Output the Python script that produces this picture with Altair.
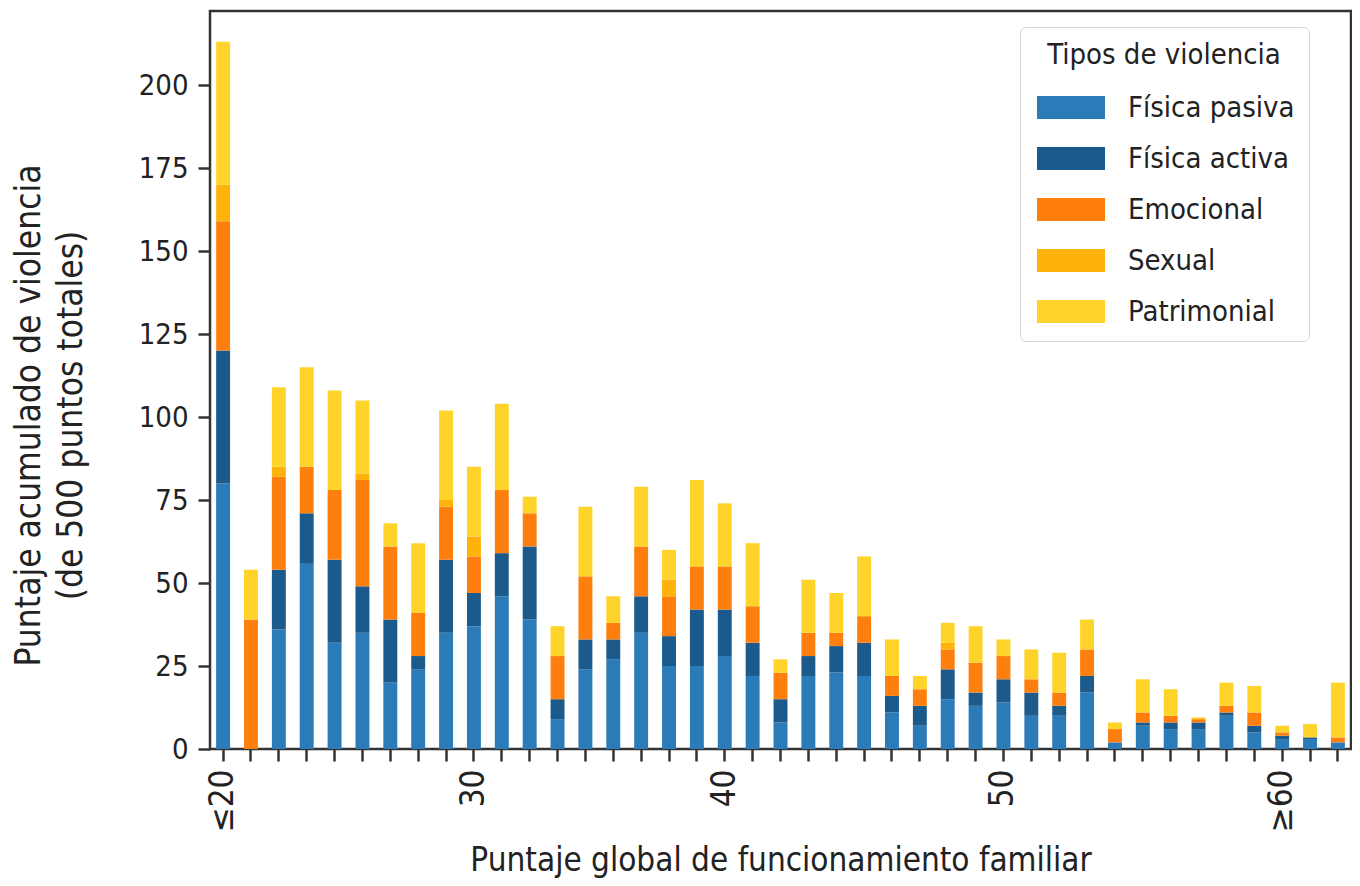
import altair as alt
import pandas as pd

# x categories (bar positions) and their tick labels
grupos = list(range(41))
etiquetas_x = {0: "≤20", 9: "30", 18: "40", 28: "50", 38: "≥60"}

tipos = ["Física pasiva", "Física activa", "Emocional", "Sexual", "Patrimonial"]
colores = ["#2c7bb9", "#1b5a8a", "#ff7f0e", "#ffb20a", "#ffd42a"]

fisica_pasiva = [80, 0, 36, 56, 32, 35, 20, 24, 35, 37, 46, 39, 9, 24, 27, 35, 25, 25, 28, 22,
                 8, 22, 23, 22, 11, 7, 15, 13, 14, 10, 10, 17, 2, 7, 6, 6, 10, 5, 3, 3, 2]
fisica_activa = [40, 0, 18, 15, 25, 14, 19, 4, 22, 10, 13, 22, 6, 9, 6, 11, 9, 17, 14, 10,
                 7, 6, 8, 10, 5, 6, 9, 4, 7, 7, 3, 5, 0, 1, 2, 2, 1, 2, 1, 0.5, 0]
emocional = [39, 39, 28, 14, 21, 32, 22, 13, 16, 11, 19, 10, 13, 19, 5, 15, 12, 13, 13, 11,
             8, 7, 4, 8, 6, 5, 6, 9, 7, 4, 4, 8, 4, 3, 2, 1, 2, 4, 1, 0, 1.5]
sexual = [11, 0, 3, 0, 0, 2, 0, 0, 2, 6, 0, 0, 0, 0, 0, 0, 5, 0, 0, 0,
          0, 0, 0, 0, 0, 0, 2, 0, 0, 0, 0, 0, 0, 0, 0, 0, 0, 0, 0, 0, 0]
patrimonial = [43, 15, 24, 30, 30, 22, 7, 21, 27, 21, 26, 5, 9, 21, 8, 18, 9, 26, 19, 19,
               4, 16, 12, 18, 11, 4, 6, 11, 5, 9, 12, 9, 2, 10, 8, 0.5, 7, 8, 2, 4, 16.5]

y_ticks = [0, 25, 50, 75, 100, 125, 150, 175, 200]

series = [fisica_pasiva, fisica_activa, emocional, sexual, patrimonial]
rows = []
for i, g in enumerate(grupos):
    for k, (t, s) in enumerate(zip(tipos, series)):
        rows.append({"grupo": g, "tipo": t, "valor": s[i], "orden": k})
df = pd.DataFrame(rows)

label_expr = " : ".join(f"datum.value == {k} ? '{v}'" for k, v in etiquetas_x.items()) + " : ''"

FONT = "DejaVu Sans Condensed, Liberation Sans Narrow, DejaVu Sans"
DARK = "#222222"

chart = alt.Chart(df).mark_bar().encode(
    x=alt.X(
        "grupo:O",
        scale=alt.Scale(paddingInner=0.5, paddingOuter=0.22),
        axis=alt.Axis(
            title="Puntaje global de funcionamiento familiar",
            labelExpr=label_expr,
            labelAngle=270,
            labelOverlap=False,
            labelFont=FONT,
            labelFontSize=33,
            labelColor=DARK,
            labelPadding=8,
            tickSize=12,
            tickWidth=2.5,
            tickColor="#333333",
            domain=False,
            titleFont=FONT,
            titleFontSize=33,
            titleFontWeight="normal",
            titleColor=DARK,
            titlePadding=13,
        ),
    ),
    y=alt.Y(
        "valor:Q",
        stack="zero",
        scale=alt.Scale(domain=[0, 222.3], nice=False),
        axis=alt.Axis(
            values=y_ticks,
            title=["Puntaje acumulado de violencia", "(de 500 puntos totales)"],
            grid=False,
            labelFont=FONT,
            labelFontSize=29,
            labelColor=DARK,
            labelPadding=10,
            tickSize=12,
            tickWidth=2.5,
            tickColor="#333333",
            domain=False,
            titleFont=FONT,
            titleFontSize=35,
            titleLineHeight=42,
            titleFontWeight="normal",
            titleColor=DARK,
            titlePadding=50,
            titleY=404,
        ),
    ),
    color=alt.Color(
        "tipo:N",
        scale=alt.Scale(domain=tipos, range=colores),
        legend=alt.Legend(
            title="Tipos de violencia",
            orient="none",
            legendX=810,
            legendY=16,
            symbolType="M-1,-1H4.913V1H-1Z",
            symbolSize=529,
            symbolStrokeWidth=0,
            symbolOpacity=1,
            labelFont=FONT,
            labelFontSize=29,
            labelColor=DARK,
            labelOffset=65,
            labelLimit=400,
            titleLimit=400,
            titleFont=FONT,
            titleFontSize=29,
            titleFontWeight="normal",
            titleColor=DARK,
            titleAnchor="middle",
            titlePadding=23,
            rowPadding=21,
            padding=14,
            cornerRadius=6,
            strokeColor="#d6d6d6",
            fillColor="white",
        ),
    ),
    order=alt.Order("orden:Q", sort="ascending"),
).properties(
    width=1141,
    height=738,
    autosize=alt.AutoSizeParams(type="none"),
    padding={"left": 202, "top": 3, "right": 1, "bottom": 129},
).configure_view(
    stroke="#333333",
    strokeWidth=2.5,
)

chart.save("out.html", embed_options={"renderer": "svg", "actions": False})
